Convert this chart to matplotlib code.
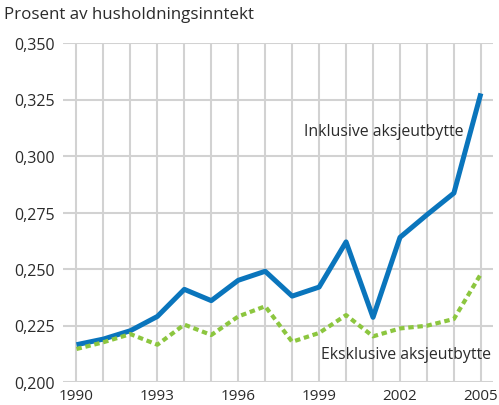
import matplotlib
matplotlib.use("Agg")
import matplotlib.pyplot as plt

years = list(range(1990, 2006))
inklusive = [0.2165, 0.219, 0.2227, 0.229, 0.241, 0.236, 0.245, 0.249,
             0.238, 0.242, 0.262, 0.2286, 0.264, 0.274, 0.2836, 0.3277]
eksklusive = [0.2146, 0.2176, 0.2212, 0.2165, 0.2254, 0.2208, 0.229, 0.2335,
              0.2178, 0.2217, 0.2296, 0.2202, 0.2237, 0.2249, 0.2279, 0.2478]
yticks = [0.200, 0.225, 0.250, 0.275, 0.300, 0.325, 0.350]
xticks = [1990, 1993, 1996, 1999, 2002, 2005]

plt.rcParams['font.family'] = ['Open Sans', 'DejaVu Sans']
txt = '#2b2b2b'

fig = plt.figure(figsize=(4.99, 4.06), dpi=100)
ax = fig.add_axes([63 / 499, 23 / 406, 430 / 499, 339 / 406])

ax.plot(years, inklusive, color='#0a75bc', lw=3.6, solid_capstyle='butt', zorder=3)
ax.plot(years, eksklusive, color='#8cc63f', lw=3.0, ls=(0, (1.3, 0.9)), zorder=3)

ax.set_xlim(1989.5, 2005.45)
ax.set_ylim(0.2, 0.35)
ax.set_xticks(years, minor=True)
ax.set_xticks(xticks)
ax.set_xticklabels([str(x) for x in xticks])
ax.set_yticks(yticks)
ax.set_yticklabels([f"{v:.3f}".replace('.', ',') for v in yticks])
ax.grid(True, which='both', color='#d2d2d2', lw=1.5, zorder=0)
for s in ax.spines.values():
    s.set_visible(False)
ax.tick_params(which='both', length=0, labelsize=11.5, colors=txt)
ax.tick_params(axis='x', pad=4, labelsize=11)
ax.tick_params(axis='y', pad=6)

fig.text(4 / 499, 1 - 15 / 406, "Prosent av husholdningsinntekt", fontsize=12.2,
         color=txt, va='center', ha='left')
ax.text(1998.44, 0.311, "Inklusive aksjeutbytte", fontsize=11.4, color=txt,
        va='center', ha='left')
ax.text(1999.07, 0.2125, "Eksklusive aksjeutbytte", fontsize=11.4, color=txt,
        va='center', ha='left')

fig.savefig("out.png", dpi=100)
